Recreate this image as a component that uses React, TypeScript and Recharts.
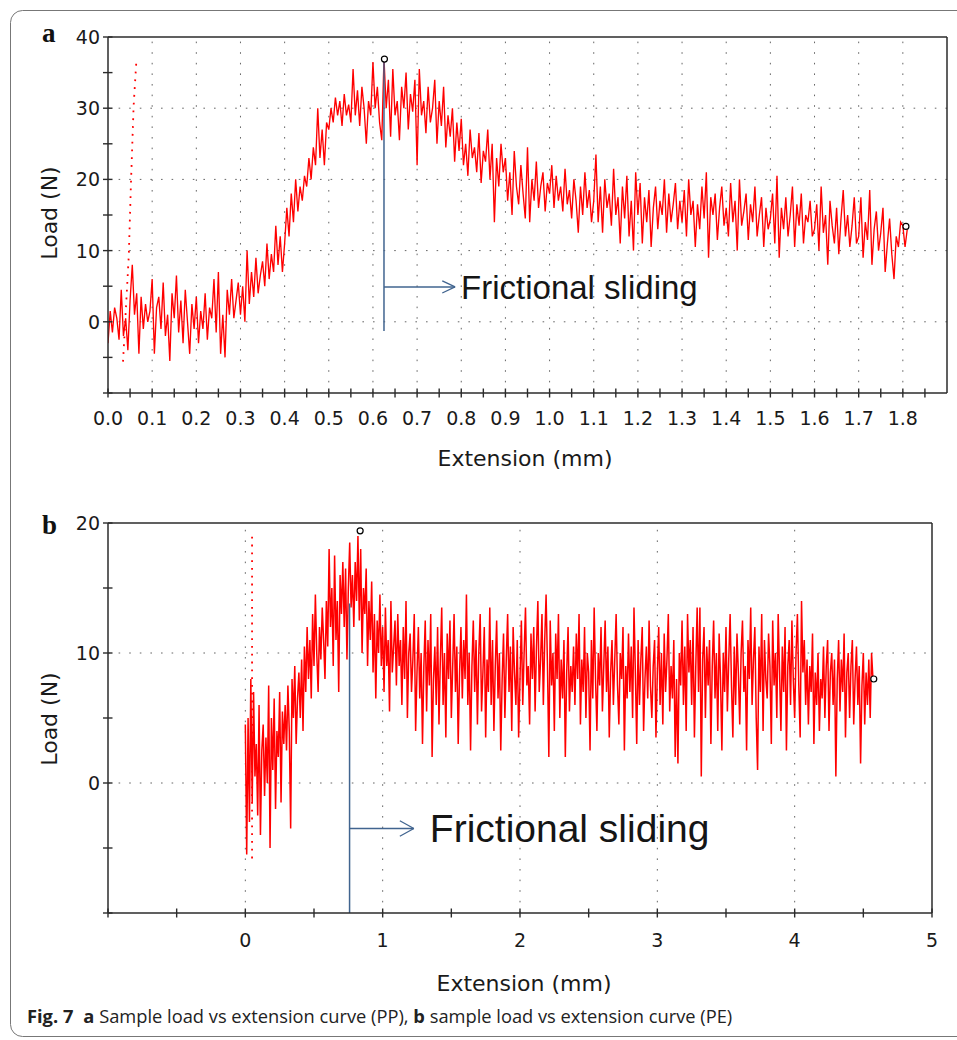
import React from "react";
import {
  LineChart,
  Line,
  XAxis,
  YAxis,
  ReferenceLine,
  ReferenceDot,
} from "recharts";

// ---- panel a (PP): load sampled every 0.005 mm from 0 to 1.81 mm
const A_STEP = 0.005;
const A_LOADS = [
  -3, 1.5, -1.5, 2, 0.5, -2.5, 4.5, -2, 0.5, -4, 3, 8, 1, 4, -4.5, 3.5, -1, 2.5, 0, 1.5,
  6, -4.5, 2, 3.5, -1, 5.5, -2, 1, -5.5, 4, 0.5, 6.5, -1.5, 3, -3, 4.5, 0, -4.5, 2.5, -1,
  3.5, -3, 1.5, -1, 4, -2.5, 2, 0.5, 6, -1.5, 7, -4.5, 1, -5, 4.5, 1, 6, 0.5, 3, 5.5,
  1, 5, 0, 10, 2.5, 7, 3.5, 9, 4, 6.5, 8.5, 5, 11, 6, 9.5, 7, 13.5, 8, 12, 7,
  11, 16, 12, 18, 14, 20, 15.5, 19, 17, 20.5, 19, 23, 20, 24.5, 22, 30, 23, 27, 22, 28,
  27, 30, 28, 31.5, 29, 31, 27.5, 32, 29, 30.5, 28, 35.5, 29, 32.5, 27.5, 33, 30, 25, 31, 29,
  36.5, 30, 33, 28, 25.5, 37, 30, 34, 26, 35.5, 29, 31, 25.5, 33, 30, 35, 27, 32, 29.5, 34,
  22, 35.5, 29, 31, 26.5, 33, 28, 30, 34, 25, 31, 27.5, 33, 24.5, 29, 26, 30, 22.5, 28, 24,
  28.5, 22, 25, 20.5, 27, 23, 24.5, 21, 26.5, 19.5, 24, 22.5, 27, 20, 25, 14, 23, 19, 25, 21,
  23, 17, 21, 15, 24, 19, 16.5, 22, 18, 14.5, 24.5, 14, 20, 17, 22.5, 16, 19, 21, 15.5, 19.5,
  18, 22, 16, 20.5, 17, 19, 15.5, 21.5, 16.5, 18.5, 14.5, 20, 17, 12.5, 19, 15, 21, 16, 18.5, 14,
  17, 23.5, 14, 19, 12.5, 20, 16, 18, 13.5, 21.5, 15, 17.5, 11, 19, 14.5, 20.5, 12, 17, 10, 21,
  15, 19.5, 11, 17.5, 14, 18.5, 10.5, 16, 19, 13, 17, 15, 20, 12.5, 18, 14, 16.5, 19.5, 13, 17,
  14, 18.5, 12, 20, 15, 17, 10.5, 16.5, 13, 19, 14.5, 21, 9, 17.5, 15, 18, 11.5, 16, 19, 13.5,
  16, 12, 19.5, 14, 17, 10, 20, 13.5, 15.5, 18, 11.5, 16.5, 14, 19, 12, 15, 17.5, 10.5, 16, 13,
  14.5, 18, 11, 20.5, 9, 16, 13, 17.5, 12, 15, 19, 10.5, 16.5, 13.5, 18, 11, 15, 14, 17, 12,
  13, 16.5, 10, 19, 12.5, 15, 8, 17, 13.5, 11, 16, 9.5, 14.5, 18.5, 12, 15, 10.5, 13.5, 17.5, 11,
  12, 17.5, 9, 14, 11.5, 18.5, 8, 13, 15.5, 10, 12.5, 16, 7, 11, 14.5, 9.5, 6, 12, 10.5, 14,
  13.5, 10.5, 13,
];
const A_X_TICKS = [
  0, 0.05, 0.1, 0.15, 0.2, 0.25, 0.3, 0.35, 0.4, 0.45, 0.5, 0.55, 0.6, 0.65, 0.7, 0.75, 0.8,
  0.85, 0.9, 0.95, 1, 1.05, 1.1, 1.15, 1.2, 1.25, 1.3, 1.35, 1.4, 1.45, 1.5, 1.55, 1.6, 1.65,
  1.7, 1.75, 1.8, 1.85,
];
const A_X_LABELS = [0, 0.1, 0.2, 0.3, 0.4, 0.5, 0.6, 0.7, 0.8, 0.9, 1, 1.1, 1.2, 1.3, 1.4, 1.5, 1.6, 1.7, 1.8];
const A_Y_TICKS = [-10, -5, 0, 5, 10, 15, 20, 25, 30, 35, 40];
const A_Y_LABELS = [0, 10, 20, 30, 40];
const A_GRID_X = [0.1, 0.2, 0.3, 0.4, 0.5, 0.6, 0.7, 0.8, 0.9, 1, 1.1, 1.2, 1.3, 1.4, 1.5, 1.6, 1.7, 1.8];
const A_GRID_Y = [0, 10, 20, 30];
const A_START_MARK = [
  { ext: 0.034, y: -5.6 },
  { ext: 0.047, y: 9.2 },
  { ext: 0.052, y: 19.5 },
  { ext: 0.058, y: 30.3 },
  { ext: 0.064, y: 36.4 },
];

// ---- panel b (PE): load sampled every 0.01 mm from 0 to 4.57 mm
const B_STEP = 0.01;
const B_LOADS = [
  4.5, -5.5, 5, -3, 8, -1.5, 7, 0.5, 3, -2.5,
  6, -4, 2.5, 4.5, -1, 3.5, 0, 7.5, -5, 5,
  1, 6.5, -2, 4, 2, 7, -1.5, 5.5, 3, 6,
  2.5, 7.5, 4, -3.5, 8, 5, 9, 3, 6.5, 8.5,
  5, 9.5, 4, 10.5, 7, 12, 8, 11, 6.5, 13,
  9, 14.5, 10, 7, 12, 9.5, 13.5, 11, 8, 14,
  10.5, 18, 12, 15, 9, 17.5, 11, 14, 7, 16,
  13, 17, 12, 16.5, 9.5, 15, 18.5, 13.5, 16, 12,
  17, 14, 19, 12.5, 18, 10, 15, 13, 16.5, 9,
  14, 11, 15.5, 8.5, 13, 6.5, 12.5, 10, 14.5, 9,
  12, 7, 13.5, 9, 11, 5.5, 14, 8.5, 10.5, 12.5,
  7.5, 13, 9, 11, 6, 12, 8, 14, 5, 10,
  11.5, 7, 9.5, 13, 4, 8.5, 12, 6.5, 10, 3,
  9, 12.5, 5.5, 11, 7.5, 13, 2, 8, 10.5, 6,
  12, 4.5, 9.5, 13.5, 6, 10, 3.5, 11.5, 8, 12.5,
  5, 9, 13, 7, 10.5, 3, 8.5, 12, 6.5, 11,
  8, 14.5, 6, 10, 2.5, 9, 12.5, 7, 11, 4.5,
  10, 13, 5.5, 8.5, 12, 3.5, 9.5, 7, 13.5, 6,
  11, 4, 9, 12.5, 6.5, 10, 2.5, 8, 11.5, 5,
  9.5, 13, 7, 10.5, 4, 12, 8.5, 6, 11, 3.5,
  8, 12.5, 6, 10, 13.5, 7.5, 9, 4.5, 11.5, 8,
  12, 5.5, 10.5, 14, 7, 9.5, 13, 6, 11, 14.5,
  9, 2, 12.5, 7.5, 10, 4, 11.5, 8, 13, 5,
  9.5, 6.5, 11, 2, 8.5, 12, 5.5, 9, 7, 10.5,
  6, 11.5, 8, 13, 4.5, 9.5, 7, 12, 5, 10,
  8.5, 2.5, 11, 6.5, 13.5, 8, 4, 10, 7.5, 12,
  5.5, 9, 12.5, 7, 10.5, 3.5, 8.5, 11, 6, 9.5,
  13, 7.5, 4.5, 10, 8, 12, 2.5, 9, 6.5, 11.5,
  7, 10.5, 5, 13.5, 8.5, 3, 11, 6, 9.5, 12,
  4, 8, 10.5, 6.5, 12.5, 7.5, 5, 9, 11, 3.5,
  8.5, 12, 6, 10, 4.5, 11.5, 7, 9.5, 13, 5.5,
  9, 6.5, 11, 2, 8, 1.5, 10, 7.5, 12.5, 6,
  10.5, 4, 13, 8.5, 11, 6, 12, 3.5, 9, 13.5,
  7, 13.5, 0.5, 9.5, 12, 5, 10.5, 7.5, 11, 3,
  9, 12.5, 6.5, 10, 4, 11.5, 8, 2.5, 10, 7,
  12, 5.5, 9.5, 13, 7.5, 3.5, 10.5, 6, 11.5, 8.5,
  4.5, 10, 12.5, 7, 9, 2.5, 11, 8, 13.5, 6,
  9.5, 12, 5, 1, 10.5, 7, 13, 4, 11, 8,
  6.5, 11.5, 9, 3, 12.5, 7.5, 10, 5, 13, 8.5,
  4, 10.5, 7, 12, 2.5, 9, 11, 6, 12.5, 8,
  5, 10, 13, 7.5, 3.5, 14, 8.5, 11, 6, 9.5,
  4.5, 9, 7, 11.5, 3, 8.5, 6, 10, 4, 8,
  6.5, 10.5, 5, 9, 11, 4, 8.5, 10, 6, 9.5,
  0.5, 8, 11, 5.5, 9.5, 7, 11.5, 3.5, 8.5, 10,
  5, 9, 11, 4.5, 8, 10.5, 6, 9, 1.5, 7.5,
  10, 4.5, 8.5, 6, 9.5, 5, 10, 8,
];
const B_X_TICKS = [-1, -0.5, 0, 0.5, 1, 1.5, 2, 2.5, 3, 3.5, 4, 4.5, 5];
const B_X_LABELS = [0, 1, 2, 3, 4, 5];
const B_Y_TICKS = [-10, -5, 0, 5, 10, 15, 20];
const B_Y_LABELS = [0, 10, 20];
const B_GRID_X = [0, 1, 2, 3, 4];
const B_GRID_Y = [0, 10];
const B_START_MARK = [
  { ext: 0.049, y: -5.8 },
  { ext: 0.049, y: 19.2 },
];

const RED = "#ff0000";
const BLUE = "#41648f";
const AXIS = "#2b2b2b";
const GRID = "#666";
const TICK_FONT = "'DejaVu Sans', Verdana, sans-serif";

const aData = A_LOADS.map((load, i) => ({ ext: +(i * A_STEP).toFixed(3), load }));
const bData = B_LOADS.map((load, i) => ({ ext: +(i * B_STEP).toFixed(2), load }));

const has = (list: number[], v: number) => list.some((l) => Math.abs(l - v) < 1e-6);

function xTick(labels: number[], fmt: (v: number) => string, gap: number) {
  return (props: any) => {
    const { x, y, payload } = props;
    const v = payload.value;
    return (
      <g>
        <line x1={x} x2={x} y1={y - 4.5} y2={y + 4.5} stroke={AXIS} strokeWidth={1.4} />
        {has(labels, v) && (
          <text x={x} y={y + gap} textAnchor="middle" fontFamily={TICK_FONT} fontSize={19} fill="#1a1a1a">
            {fmt(v)}
          </text>
        )}
      </g>
    );
  };
}

function yTick(labels: number[]) {
  return (props: any) => {
    const { x, y, payload } = props;
    const v = payload.value;
    return (
      <g>
        <line x1={x - 5} x2={x + 4.5} y1={y} y2={y} stroke={AXIS} strokeWidth={1.4} />
        {has(labels, v) && (
          <text x={x - 8} y={y + 7} textAnchor="end" fontFamily={TICK_FONT} fontSize={19} fill="#1a1a1a">
            {v}
          </text>
        )}
      </g>
    );
  };
}

const frictionLabel = (size: number, gap: number) => ({
  value: "Frictional sliding",
  position: "right" as const,
  offset: gap,
  fontSize: size,
  fontFamily: "'Liberation Sans', Arial, sans-serif",
  fill: "#151515",
});

function PanelA() {
  return (
    <LineChart width={957} height={460} data={aData} margin={{ top: 37, left: 107, right: 10, bottom: 66 }}>
      {A_GRID_X.map((g) => (
        <ReferenceLine key={`ax${g}`} x={g} stroke={GRID} strokeDasharray="1.6 9" />
      ))}
      {A_GRID_Y.map((g) => (
        <ReferenceLine key={`ay${g}`} y={g} stroke={GRID} strokeDasharray="1.6 9" />
      ))}
      <XAxis
        dataKey="ext"
        type="number"
        domain={[0, 1.9]}
        ticks={A_X_TICKS}
        interval={0}
        height={1}
        tickSize={0}
        tickMargin={0}
        tickLine={false}
        axisLine={{ stroke: AXIS, strokeWidth: 1.5 }}
        tick={xTick(A_X_LABELS, (v) => v.toFixed(1), 32)}
        allowDataOverflow
      />
      <YAxis
        type="number"
        domain={[-10, 40]}
        ticks={A_Y_TICKS}
        interval={0}
        width={1}
        tickSize={0}
        tickMargin={0}
        tickLine={false}
        axisLine={{ stroke: AXIS, strokeWidth: 1.5 }}
        tick={yTick(A_Y_LABELS)}
        allowDataOverflow
      />
      <ReferenceLine y={40} stroke={AXIS} strokeWidth={1.5} />
      <ReferenceLine x={1.9} stroke={AXIS} strokeWidth={1.5} />
      <Line
        data={A_START_MARK}
        dataKey="y"
        type="linear"
        stroke={RED}
        strokeWidth={1.8}
        strokeDasharray="1.8 6"
        dot={false}
        isAnimationActive={false}
      />
      <Line dataKey="load" type="linear" stroke={RED} strokeWidth={1.35} dot={false} isAnimationActive={false} />
      <ReferenceLine segment={[{ x: 0.625, y: 36.6 }, { x: 0.625, y: -1.3 }]} stroke={BLUE} strokeWidth={1.5} />
      <ReferenceLine
        segment={[{ x: 0.625, y: 4.9 }, { x: 0.786, y: 4.9 }]}
        stroke={BLUE}
        strokeWidth={1.5}
        label={frictionLabel(33, 6)}
      />
      <ReferenceLine segment={[{ x: 0.757, y: 5.75 }, { x: 0.786, y: 4.9 }]} stroke={BLUE} strokeWidth={1.3} />
      <ReferenceLine segment={[{ x: 0.757, y: 4.05 }, { x: 0.786, y: 4.9 }]} stroke={BLUE} strokeWidth={1.3} />
      <ReferenceDot x={0.626} y={36.9} r={3} fill="#fff" stroke="#000" strokeWidth={1.2} />
      <ReferenceDot x={1.807} y={13.4} r={3} fill="#fff" stroke="#000" strokeWidth={1.2} />
    </LineChart>
  );
}

function PanelB() {
  return (
    <LineChart width={957} height={480} data={bData} margin={{ top: 43, left: 107, right: 25, bottom: 46 }}>
      {B_GRID_X.map((g) => (
        <ReferenceLine key={`bx${g}`} x={g} stroke={GRID} strokeDasharray="1.6 9" />
      ))}
      {B_GRID_Y.map((g) => (
        <ReferenceLine key={`by${g}`} y={g} stroke={GRID} strokeDasharray="1.6 9" />
      ))}
      <XAxis
        dataKey="ext"
        type="number"
        domain={[-1, 5]}
        ticks={B_X_TICKS}
        interval={0}
        height={1}
        tickSize={0}
        tickMargin={0}
        tickLine={false}
        axisLine={{ stroke: AXIS, strokeWidth: 1.5 }}
        tick={xTick(B_X_LABELS, (v) => String(v), 34)}
        allowDataOverflow
      />
      <YAxis
        type="number"
        domain={[-10, 20]}
        ticks={B_Y_TICKS}
        interval={0}
        width={1}
        tickSize={0}
        tickMargin={0}
        tickLine={false}
        axisLine={{ stroke: AXIS, strokeWidth: 1.5 }}
        tick={yTick(B_Y_LABELS)}
        allowDataOverflow
      />
      <ReferenceLine y={20} stroke={AXIS} strokeWidth={1.5} />
      <ReferenceLine x={5} stroke={AXIS} strokeWidth={1.5} />
      <Line
        data={B_START_MARK}
        dataKey="y"
        type="linear"
        stroke={RED}
        strokeWidth={1.8}
        strokeDasharray="1.8 6"
        dot={false}
        isAnimationActive={false}
      />
      <Line dataKey="load" type="linear" stroke={RED} strokeWidth={1.5} dot={false} isAnimationActive={false} />
      <ReferenceLine segment={[{ x: 0.759, y: 13.8 }, { x: 0.759, y: -10 }]} stroke={BLUE} strokeWidth={1.5} />
      <ReferenceLine
        segment={[{ x: 0.759, y: -3.5 }, { x: 1.227, y: -3.5 }]}
        stroke={BLUE}
        strokeWidth={1.5}
        label={frictionLabel(39, 16)}
      />
      <ReferenceLine segment={[{ x: 1.125, y: -2.9 }, { x: 1.227, y: -3.5 }]} stroke={BLUE} strokeWidth={1.3} />
      <ReferenceLine segment={[{ x: 1.125, y: -4.1 }, { x: 1.227, y: -3.5 }]} stroke={BLUE} strokeWidth={1.3} />
      <ReferenceDot x={0.836} y={19.4} r={3} fill="#fff" stroke="#000" strokeWidth={1.2} />
      <ReferenceDot x={4.576} y={8} r={3} fill="#fff" stroke="#000" strokeWidth={1.2} />
    </LineChart>
  );
}

export default function App() {
  const title = { fontFamily: TICK_FONT, fontSize: 22, fill: "#1a1a1a" };
  const letter = { fontFamily: "'Liberation Serif', 'DejaVu Serif', serif", fontSize: 27, fontWeight: 700, fill: "#111" };
  return (
    <div style={{ position: "absolute", left: 0, top: 0, width: 957, height: 1040, overflow: "hidden", background: "#fff" }}>
      <svg width={957} height={1040} style={{ position: "absolute", left: 0, top: 0 }}>
        <rect x={10.5} y={10.5} width={980} height={1026} rx={12} fill="none" stroke="#777" />
        <text x={42} y={42} {...letter}>a</text>
        <text x={42} y={534} {...letter}>b</text>
        <text x={525} y={466} textAnchor="middle" {...title}>Extension (mm)</text>
        <text transform="translate(57 213) rotate(-90)" textAnchor="middle" {...title}>Load (N)</text>
        <text x={524} y={991} textAnchor="middle" {...title}>Extension (mm)</text>
        <text transform="translate(57 719) rotate(-90)" textAnchor="middle" {...title}>Load (N)</text>
        <text x={27} y={1023} fontFamily="'Open Sans', sans-serif" fontSize={18.3} fill="#222">
          <tspan fontWeight={700}>Fig. 7</tspan>
          <tspan fontWeight={700} dx={10}>a</tspan>
          <tspan>{" Sample load vs extension curve (PP), "}</tspan>
          <tspan fontWeight={700}>b</tspan>
          <tspan>{" sample load vs extension curve (PE)"}</tspan>
        </text>
      </svg>
      <div style={{ position: "absolute", left: 0, top: 0 }}>
        <PanelA />
      </div>
      <div style={{ position: "absolute", left: 0, top: 480 }}>
        <PanelB />
      </div>
    </div>
  );
}
